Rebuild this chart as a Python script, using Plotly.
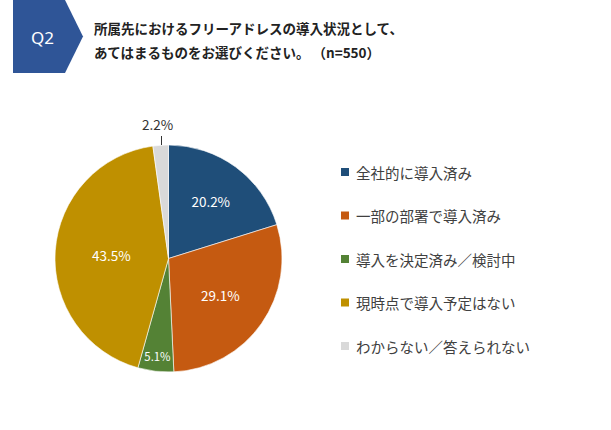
import plotly.graph_objects as go

W, H = 611, 430

categories = ["全社的に導入済み", "一部の部署で導入済み", "導入を決定済み／検討中",
              "現時点で導入予定はない", "わからない／答えられない"]
values = [20.2, 29.1, 5.1, 43.5, 2.2]
colors = ["#1F4E79", "#C55A11", "#548235", "#BF9000", "#D9D9D9"]
text_positions = ["inside", "inside", "inside", "inside", "none"]

title_lines = ["所属先におけるフリーアドレスの導入状況として、",
               "あてはまるものをお選びください。 （n=550）"]
q_label = "Q2"

FONT = "Noto Sans CJK JP"

def px(x):
    return x / W

def py(y):
    return 1 - y / H

labels_text = [f"{v:.1f}%" for v in values]

fig = go.Figure()
fig.add_trace(go.Pie(
    labels=categories,
    values=values,
    sort=False,
    direction="clockwise",
    rotation=0,
    marker=dict(colors=colors, line=dict(color="white", width=0.6)),
    text=labels_text,
    textinfo="text",
    textposition=text_positions,
    insidetextorientation="horizontal",
    textfont=dict(family=FONT, size=13.5, color="white"),
    showlegend=False,
    hoverinfo="label+text",
    domain=dict(x=[px(168.5 - 113.5), px(168.5 + 113.5)],
                y=[py(372), py(145)]),
))

shapes = []
# header pentagon
path = "M {} {} L {} {} L {} {} L {} {} L {} {} Z".format(
    px(13), py(0), px(65), py(0), px(83), py(36.5), px(65), py(73), px(13), py(73))
shapes.append(dict(type="path", xref="paper", yref="paper", path=path,
                   fillcolor="#2F5597", line=dict(width=0)))
# leader line for small slice label
shapes.append(dict(type="line", xref="paper", yref="paper",
                   x0=px(161.5), x1=px(161.5), y0=py(136), y1=py(145),
                   line=dict(color="#333333", width=1)))

annotations = []
# outside label of the small slice
annotations.append(dict(text=labels_text[4], x=px(157), y=py(124), xref="paper", yref="paper",
                        showarrow=False, xanchor="center", yanchor="middle",
                        font=dict(family=FONT, size=13.5, color="#333333")))
annotations.append(dict(text=q_label, x=px(42), y=py(38), xref="paper", yref="paper",
                        showarrow=False, xanchor="center", yanchor="middle",
                        font=dict(family="Noto Sans", size=17, color="white")))
for i, line in enumerate(title_lines):
    annotations.append(dict(text=f"<b>{line}</b>", x=px(92), y=py(28 + 24 * i),
                            xref="paper", yref="paper", showarrow=False,
                            xanchor="left", yanchor="middle",
                            font=dict(family=FONT, size=13.5, color="#222222")))

# legend
legend_y0, legend_dy = 172, 43.5
for i, (cat, col) in enumerate(zip(categories, colors)):
    yc = legend_y0 + legend_dy * i
    shapes.append(dict(type="rect", xref="paper", yref="paper",
                       x0=px(341), x1=px(349), y0=py(yc - 4), y1=py(yc + 4),
                       fillcolor=col, line=dict(width=0)))
    annotations.append(dict(text=cat, x=px(354), y=py(yc), xref="paper", yref="paper",
                            showarrow=False, xanchor="left", yanchor="middle",
                            font=dict(family=FONT, size=14.5, color="#404040")))

fig.update_layout(
    width=W, height=H,
    margin=dict(l=0, r=0, t=0, b=0),
    paper_bgcolor="white",
    plot_bgcolor="white",
    shapes=shapes,
    annotations=annotations,
)

fig.write_html("out.html")
